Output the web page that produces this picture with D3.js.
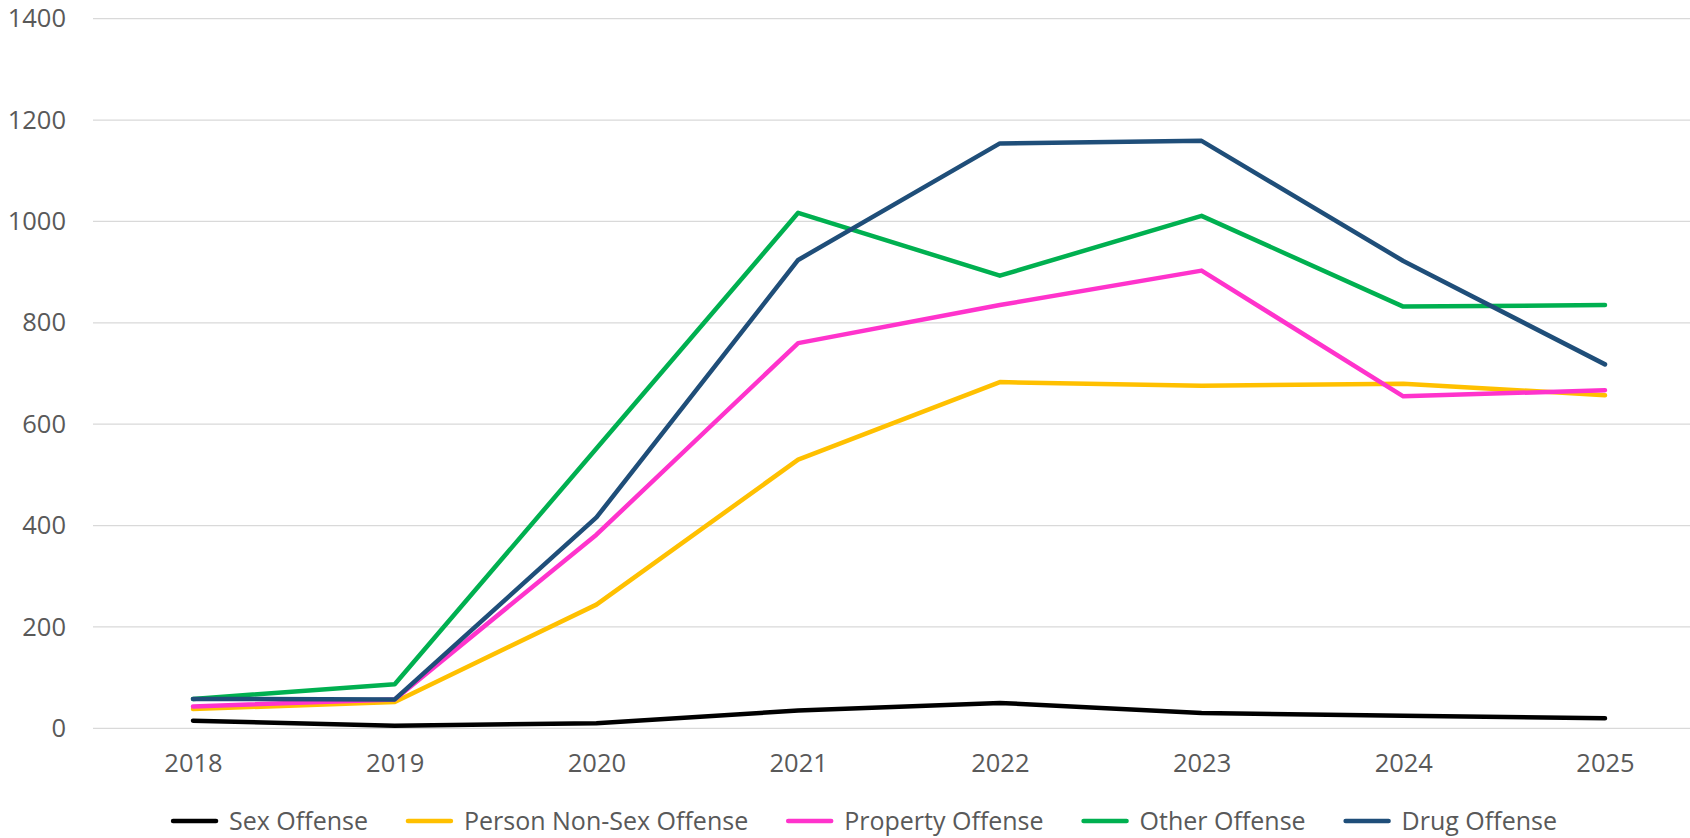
<!DOCTYPE html>
<html>
<head>
<meta charset="utf-8">
<script src="https://cdn.jsdelivr.net/npm/d3@7"></script>
<style>
body { margin: 0; background: #fff; }
svg { display: block; font-family: "Open Sans", sans-serif; }
</style>
</head>
<body>
<svg width="1690" height="838"></svg>
<script>
var years = ['2018', '2019', '2020', '2021', '2022', '2023', '2024', '2025'];
var yTicks = [0, 200, 400, 600, 800, 1000, 1200, 1400];

var seriesNames = ['Sex Offense', 'Person Non-Sex Offense', 'Property Offense', 'Other Offense', 'Drug Offense'];
var seriesColors = ['#000000', '#FFC000', '#FF33CC', '#00B050', '#1F4E79'];

var sexOffense      = [15, 5, 10, 35, 50, 30, 25, 20];
var personNonSex    = [38, 52, 244, 530, 683, 676, 680, 657];
var propertyOffense = [43, 57, 382, 760, 835, 903, 655, 667];
var otherOffense    = [58, 87, 552, 1017, 893, 1011, 832, 835];
var drugOffense     = [58, 57, 416, 924, 1154, 1159, 922, 718];

var seriesValues = [sexOffense, personNonSex, propertyOffense, otherOffense, drugOffense];

var svg = d3.select('svg');
var fontSize = '25.5px';

var x = d3.scalePoint().domain(years).range([193, 1605]);
var y = d3.scaleLinear().domain([0, 1400]).range([728.3, 18.7]);

// gridlines
svg.append('g')
	.selectAll('line')
	.data(yTicks)
	.enter().append('line')
	.attr('x1', 93).attr('x2', 1690)
	.attr('y1', function(d){ return y(d); })
	.attr('y2', function(d){ return y(d); })
	.style('stroke', '#d9d9d9')
	.style('stroke-width', 1.3);

// y axis labels
var yAxis = svg.append('g')
	.attr('transform', 'translate(66,0)')
	.call(d3.axisLeft(y).tickValues(yTicks).tickFormat(d3.format('d')).tickSize(0).tickPadding(0));
yAxis.select('.domain').remove();
yAxis.selectAll('text')
	.style('font-family', '"Open Sans", sans-serif')
	.style('font-size', fontSize)
	.style('fill', '#595959');

// x axis labels
var xAxis = svg.append('g')
	.attr('transform', 'translate(0,754)')
	.call(d3.axisBottom(x).tickSize(0).tickPadding(0));
xAxis.select('.domain').remove();
xAxis.selectAll('text')
	.style('font-family', '"Open Sans", sans-serif')
	.style('font-size', fontSize)
	.style('fill', '#595959');

var line = d3.line()
	.x(function(d, i){ return x(years[i]); })
	.y(function(d){ return y(d); });

seriesValues.forEach(function(vals, k){
	svg.append('path')
		.datum(vals)
		.attr('d', line)
		.style('fill', 'none')
		.style('stroke', seriesColors[k])
		.style('stroke-width', 4.5)
		.style('stroke-linecap', 'round')
		.style('stroke-linejoin', 'round');
});

// legend
var legend = svg.append('g');
var items = legend.selectAll('g')
	.data(seriesNames)
	.enter().append('g');
items.append('line')
	.attr('x1', 0).attr('x2', 43)
	.attr('y1', 0).attr('y2', 0)
	.style('stroke', function(d, i){ return seriesColors[i]; })
	.style('stroke-width', 4.5)
	.style('stroke-linecap', 'round');
items.append('text')
	.attr('x', 56)
	.attr('dy', '0.35em')
	.style('font-size', '25px')
	.style('fill', '#595959')
	.text(function(d){ return d; });

var offsets = [], pos = 0;
items.each(function(){
	offsets.push(pos);
	pos += 56 + this.querySelector('text').getComputedTextLength() + 40;
});
var total = pos - 40;
var start = 865 - total / 2;
items.attr('transform', function(d, i){ return 'translate(' + (start + offsets[i]) + ',821)'; });
</script>
</body>
</html>
